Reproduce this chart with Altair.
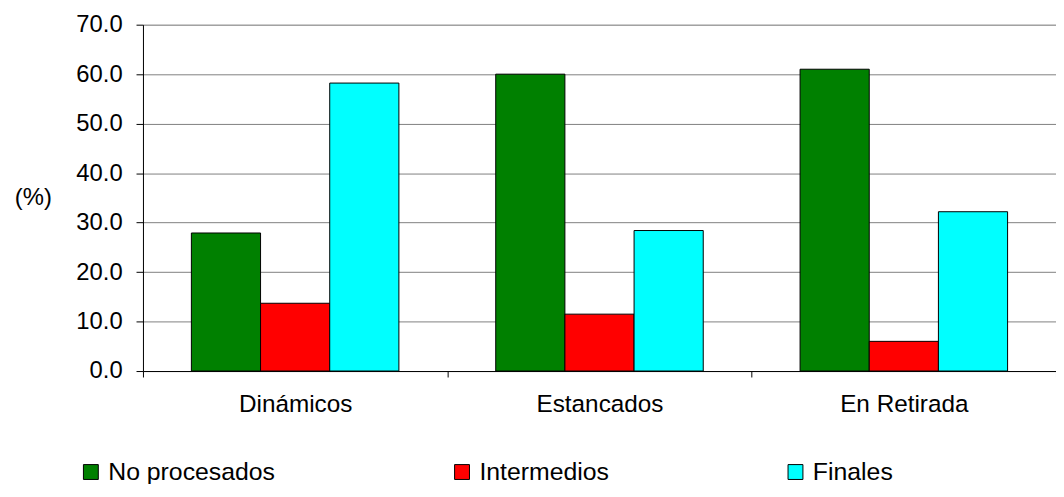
import altair as alt
import pandas as pd

categories = ["Dinámicos", "Estancados", "En Retirada"]
series = ["No procesados", "Intermedios", "Finales"]
no_procesados = [27.9, 60.0, 61.0]
intermedios = [13.7, 11.5, 6.0]
finales = [58.2, 28.4, 32.2]
colors = ["#008000", "#FF0000", "#00FFFF"]

rows = []
for i, c in enumerate(categories):
    for s, vals in zip(series, [no_procesados, intermedios, finales]):
        rows.append({"cat": c, "serie": s, "val": vals[i]})
df = pd.DataFrame(rows)

FONT = "Liberation Sans"

chart = alt.Chart(df).mark_bar(stroke="black", strokeWidth=1).encode(
    x=alt.X("cat:N", sort=categories, title=None,
            scale=alt.Scale(paddingInner=0, paddingOuter=0),
            axis=alt.Axis(labelAngle=0, tickBand="extent", tickSize=6, labelPadding=16,
                          domainColor="black", tickColor="black", labelColor="black",
                          labelFont=FONT, labelFontSize=24.5, grid=False)),
    xOffset=alt.XOffset("serie:N", sort=series,
                        scale=alt.Scale(paddingInner=0, paddingOuter=0.7)),
    y=alt.Y("val:Q", scale=alt.Scale(domain=[0, 70], nice=False),
            axis=alt.Axis(values=[0, 10, 20, 30, 40, 50, 60, 70], format=".1f",
                          title="(%)", titleAngle=0, titleX=-111, titleY=174,
                          titleAlign="center", titleBaseline="middle",
                          titleFont=FONT, titleFontSize=24, titleFontWeight="normal",
                          titleColor="black",
                          labelFont=FONT, labelFontSize=24, labelColor="black",
                          labelPadding=14, tickSize=7, tickColor="black",
                          domainColor="black", gridColor="#808080", gridWidth=1)),
    color=alt.Color("serie:N", sort=series,
                    scale=alt.Scale(domain=series, range=colors),
                    legend=alt.Legend(title=None, orient="none", direction="horizontal",
                                      legendX=-65, legendY=438, columnPadding=175,
                                      symbolType="square", symbolSize=225,
                                      symbolStrokeColor="black", symbolStrokeWidth=1,
                                      labelFont=FONT, labelFontSize=25, labelColor="black",
                                      labelOffset=5, labelLimit=300)),
).properties(
    width=920, height=349,
    autosize=alt.AutoSizeParams(type="none"),
    padding={"left": 136, "top": 15, "right": 0, "bottom": 112},
).configure_view(stroke=None).configure(background="white")

chart.save("out.html", embed_options={"renderer": "svg", "actions": False})
